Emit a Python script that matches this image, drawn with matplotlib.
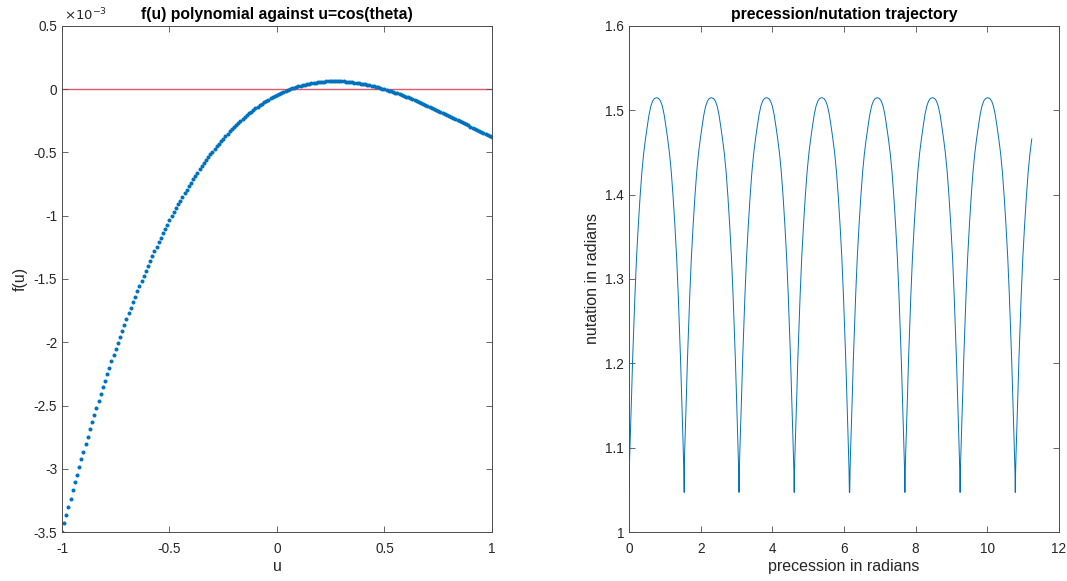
import numpy as np
import matplotlib

matplotlib.use("Agg")
import matplotlib.pyplot as plt
from matplotlib.ticker import FormatStrFormatter

plt.rcParams["font.family"] = ["Liberation Sans", "DejaVu Sans"]
plt.rcParams["axes.unicode_minus"] = False

# f(u) sampled on u = -1 .. 1 (step 0.01), in units of 1e-3
f_values = [
    -3.4984, -3.4314, -3.3652, -3.2998, -3.2352, -3.1713, -3.1082, -3.0459, -2.9844, -2.9236,
    -2.8636, -2.8043, -2.7458, -2.6880, -2.6310, -2.5747, -2.5192, -2.4643, -2.4102, -2.3569,
    -2.3042, -2.2523, -2.2010, -2.1505, -2.1007, -2.0515, -2.0031, -1.9553, -1.9083, -1.8619,
    -1.8161, -1.7711, -1.7267, -1.6830, -1.6399, -1.5975, -1.5558, -1.5147, -1.4742, -1.4344,
    -1.3952, -1.3566, -1.3187, -1.2814, -1.2447, -1.2086, -1.1731, -1.1382, -1.1039, -1.0703,
    -1.0372, -1.0047, -0.9728, -0.9414, -0.9107, -0.8805, -0.8509, -0.8218, -0.7933, -0.7654,
    -0.7379, -0.7111, -0.6848, -0.6590, -0.6338, -0.6091, -0.5849, -0.5612, -0.5381, -0.5154,
    -0.4933, -0.4717, -0.4506, -0.4299, -0.4098, -0.3901, -0.3710, -0.3523, -0.3341, -0.3163,
    -0.2991, -0.2823, -0.2659, -0.2500, -0.2346, -0.2196, -0.2050, -0.1909, -0.1772, -0.1639,
    -0.1511, -0.1387, -0.1267, -0.1151, -0.1039, -0.0931, -0.0827, -0.0727, -0.0632, -0.0540,
    -0.0451, -0.0367, -0.0286, -0.0209, -0.0136, -0.0066, 0.0000, 0.0063, 0.0122, 0.0177,
    0.0230, 0.0278, 0.0324, 0.0366, 0.0405, 0.0441, 0.0474, 0.0503, 0.0529, 0.0553,
    0.0573, 0.0591, 0.0605, 0.0617, 0.0626, 0.0632, 0.0635, 0.0636, 0.0634, 0.0629,
    0.0622, 0.0612, 0.0600, 0.0585, 0.0568, 0.0548, 0.0526, 0.0502, 0.0476, 0.0447,
    0.0417, 0.0384, 0.0349, 0.0312, 0.0273, 0.0232, 0.0189, 0.0145, 0.0098, 0.0050,
    0.0000, -0.0052, -0.0105, -0.0160, -0.0217, -0.0275, -0.0334, -0.0395, -0.0458, -0.0522,
    -0.0587, -0.0653, -0.0721, -0.0790, -0.0859, -0.0931, -0.1003, -0.1076, -0.1150, -0.1225,
    -0.1301, -0.1378, -0.1456, -0.1534, -0.1614, -0.1694, -0.1774, -0.1855, -0.1937, -0.2020,
    -0.2102, -0.2186, -0.2269, -0.2353, -0.2438, -0.2522, -0.2607, -0.2692, -0.2777, -0.2863,
    -0.2948, -0.3033, -0.3119, -0.3204, -0.3289, -0.3374, -0.3459, -0.3544, -0.3628, -0.3713,
    -0.3796,
]
u_values = np.linspace(-1.0, 1.0, len(f_values))

arch_offset = [0.0, 0.01, 0.02, 0.035, 0.05, 0.075, 0.10, 0.13, 0.165, 0.21,
               0.26, 0.31, 0.36, 0.41, 0.46, 0.51, 0.56, 0.61, 0.66, 0.71, 0.77]
arch_theta = [1.047, 1.074, 1.091, 1.111, 1.130, 1.166, 1.203, 1.240, 1.280, 1.325,
              1.364, 1.398, 1.427, 1.449, 1.466, 1.481, 1.495, 1.505, 1.511, 1.514, 1.515]
arch_width = 1.54
cusp_phi = [0.0, 1.53, 3.07, 4.61, 6.16, 7.70, 9.24, 10.78]
phi_end = 11.25

# build the trajectory arch by arch
half_x = np.array(arch_offset)
half_y = np.array(arch_theta)
one_x = np.concatenate([half_x, arch_width - half_x[::-1][1:]])
one_y = np.concatenate([half_y, half_y[::-1][1:]])
phi, theta = [], []
for c in cusp_phi:
    for x, y in zip(one_x, one_y):
        if c + x <= phi_end + 1e-9 and (not phi or c + x > phi[-1]):
            phi.append(c + x)
            theta.append(y)

BLUE = "#0072BD"
AXC = "#4d4d4d"
TXT = "#262626"

fig = plt.figure(figsize=(10.67, 5.81), dpi=100)
ax1 = fig.add_axes([0.0581, 0.0843, 0.403, 0.871])
ax2 = fig.add_axes([0.5895, 0.0843, 0.403, 0.871])

ax1.plot(u_values, f_values, linestyle="none", marker="o", ms=2.9, mew=0, color=BLUE)
ax1.axhline(0.0, color="#dc5a6a", lw=1.0, zorder=1)
ax1.set_xlim(-1, 1)
ax1.set_ylim(-3.5, 0.5)
ax1.set_xticks([-1, -0.5, 0, 0.5, 1])
ax1.set_yticks(np.arange(-3.5, 0.51, 0.5))
ax1.set_xlabel("u", fontsize=11.5, color=TXT, labelpad=2)
ax1.set_ylabel("f(u)", fontsize=11.5, color=TXT)
ax1.set_title("f(u) polynomial against u=cos(theta)", fontsize=11.3,
              fontweight="bold", pad=5)
ax1.text(0.005, 1.006, r"$\times10^{-3}$", transform=ax1.transAxes,
         fontsize=9.5, color=TXT, va="bottom", ha="left")

ax2.plot(phi, theta, color=BLUE, lw=0.7)
ax2.set_xlim(0, 12)
ax2.set_ylim(1, 1.6)
ax2.set_xticks(np.arange(0, 13, 2))
ax2.set_yticks(np.arange(1.0, 1.61, 0.1))
ax2.set_xlabel("precession in radians", fontsize=11.5, color=TXT, labelpad=2)
ax2.set_ylabel("nutation in radians", fontsize=11.5, color=TXT)
ax2.set_title("precession/nutation trajectory", fontsize=11.3,
              fontweight="bold", pad=5)

for ax in (ax1, ax2):
    ax.yaxis.set_major_formatter(FormatStrFormatter("%g"))
    ax.xaxis.set_major_formatter(FormatStrFormatter("%g"))
    ax.tick_params(direction="in", length=4, width=0.6, top=True, right=True,
                   labelsize=9.8, colors=AXC, labelcolor=TXT)
    ax.tick_params(axis="x", pad=7)
    for s in ax.spines.values():
        s.set_color(AXC)
        s.set_linewidth(0.7)

fig.savefig("out.png", dpi=100)
